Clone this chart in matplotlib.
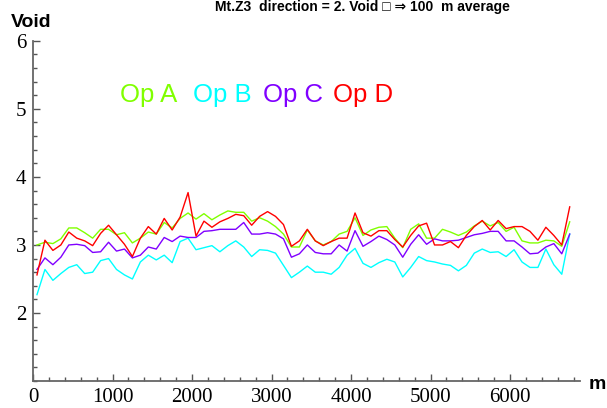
import numpy as np
import matplotlib
matplotlib.use('Agg')
import matplotlib.pyplot as plt
from matplotlib.ticker import MultipleLocator

# distance along the line, 100 m averages
dist = np.arange(50, 6800, 100)

op_a = [3.00, 3.04, 3.02, 3.09, 3.25, 3.25, 3.18, 3.10, 3.23, 3.23,
        3.15, 3.18, 3.03, 3.10, 3.19, 3.16, 3.33, 3.25, 3.39, 3.47,
        3.38, 3.46, 3.37, 3.44, 3.50, 3.48, 3.48, 3.35, 3.40, 3.35,
        3.27, 3.16, 2.97, 2.97, 3.22, 3.06, 3.00, 3.05, 3.16, 3.20,
        3.40, 3.14, 3.22, 3.26, 3.27, 3.10, 2.96, 3.23, 3.31, 3.10,
        3.10, 3.23, 3.19, 3.14, 3.19, 3.28, 3.35, 3.28, 3.33, 3.20,
        3.26, 3.06, 3.03, 3.03, 3.07, 3.06, 2.98, 3.34]

op_b = [2.27, 2.64, 2.48, 2.58, 2.67, 2.71, 2.58, 2.60, 2.77, 2.80,
        2.64, 2.56, 2.50, 2.75, 2.85, 2.78, 2.85, 2.74, 3.05, 3.10,
        2.93, 2.96, 2.99, 2.90, 2.99, 3.06, 2.97, 2.83, 2.93, 2.92,
        2.88, 2.70, 2.52, 2.60, 2.69, 2.60, 2.60, 2.57, 2.67, 2.85,
        2.95, 2.73, 2.67, 2.74, 2.79, 2.75, 2.53, 2.67, 2.83, 2.77,
        2.75, 2.72, 2.70, 2.62, 2.70, 2.88, 2.94, 2.89, 2.90, 2.83,
        2.93, 2.75, 2.67, 2.67, 2.94, 2.71, 2.57, 3.16]

op_c = [2.64, 2.81, 2.71, 2.82, 3.00, 3.01, 2.99, 2.89, 2.90, 3.04,
        2.91, 2.94, 2.81, 2.85, 2.97, 2.94, 3.11, 3.05, 3.13, 3.11,
        3.11, 3.20, 3.21, 3.23, 3.23, 3.23, 3.33, 3.16, 3.16, 3.18,
        3.16, 3.09, 2.82, 2.87, 3.00, 2.89, 2.87, 2.87, 3.00, 2.91,
        3.21, 2.98, 3.05, 3.13, 3.08, 3.00, 2.82, 3.01, 3.15, 3.01,
        3.09, 3.06, 3.06, 3.07, 3.11, 3.15, 3.17, 3.20, 3.20, 3.06,
        3.06, 2.97, 2.87, 2.88, 2.97, 3.02, 2.87, 3.16]

op_d = [2.56, 3.07, 2.92, 3.00, 3.19, 3.10, 3.06, 2.99, 3.17, 3.29,
        3.15, 3.01, 2.83, 3.10, 3.27, 3.16, 3.39, 3.22, 3.41, 3.77,
        3.13, 3.35, 3.26, 3.34, 3.39, 3.45, 3.43, 3.29, 3.42, 3.49,
        3.42, 3.30, 2.98, 3.06, 3.23, 3.06, 2.99, 3.05, 3.10, 3.10,
        3.47, 3.18, 3.13, 3.21, 3.21, 3.08, 2.97, 3.14, 3.28, 3.32,
        3.00, 3.00, 3.05, 2.96, 3.14, 3.27, 3.36, 3.22, 3.36, 3.24,
        3.27, 3.27, 3.20, 3.07, 3.26, 3.14, 3.00, 3.56]

names = ['Op A', 'Op B', 'Op C', 'Op D']
colors = ['#80ff00', '#00ffff', '#8000ff', '#ff0000']
label_x = [1094, 2012, 2893, 3773]

# tick numbers in a Times-like face, like the original
plt.rcParams['font.family'] = ['Liberation Serif', 'DejaVu Serif']

fig = plt.figure(figsize=(6.07, 4.08), dpi=100)
ax = fig.add_axes([0.0544, 0.066, 0.9012, 0.834])

for vals, c in zip([op_a, op_b, op_c, op_d], colors):
    ax.plot(dist, vals, color=c, lw=1.0)

for name, c, lx in zip(names, colors, label_x):
    ax.text(lx, 5.2, name, color=c, fontsize=18.5, family='Liberation Sans',
            va='center', ha='left')

ax.set_xlim(0, 6880)
ax.set_ylim(1.0, 6.0)

for s in ['top', 'right']:
    ax.spines[s].set_visible(False)
for s in ['left', 'bottom']:
    ax.spines[s].set_color('#666666')
    ax.spines[s].set_linewidth(1.3)

ax.xaxis.set_major_locator(MultipleLocator(1000))
ax.xaxis.set_minor_locator(MultipleLocator(200))
ax.set_yticks([2, 3, 4, 5, 6])
ax.yaxis.set_minor_locator(MultipleLocator(0.2))
ax.tick_params(which='both', direction='in', color='#555555', width=1.0,
               labelsize=15, pad=5)
ax.tick_params(which='major', length=5)
ax.tick_params(which='minor', length=3)

fig.text(0.052, 0.946, 'Void', fontsize=14, fontweight='bold',
         family='Liberation Sans', ha='center', va='center')
fig.text(0.984, 0.058, 'm', fontsize=14, fontweight='bold',
         family='Liberation Sans', ha='center', va='center')
fig.text(0.597, 0.982, 'Mt.Z3  direction = 2. Void \u25a1 \u21d2 100  m average',
         fontsize=10, fontweight='bold', family=['Liberation Sans', 'DejaVu Sans'],
         ha='center', va='center')

plt.savefig('out.png', dpi=100)
